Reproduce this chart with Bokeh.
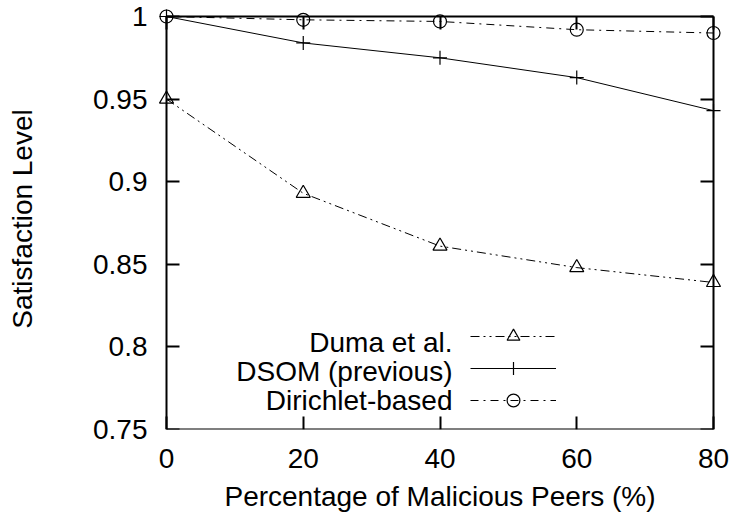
from bokeh.plotting import figure
from bokeh.models import LinearAxis, FixedTicker, Range1d, Legend, LegendItem, Label
from bokeh.embed import file_html
from bokeh.resources import INLINE

# ---------------- data ----------------
x_pct = [0, 20, 40, 60, 80]
duma = [0.950, 0.893, 0.861, 0.848, 0.839]
dsom = [1.000, 0.984, 0.975, 0.963, 0.943]
dirichlet = [1.000, 0.998, 0.997, 0.992, 0.990]
series_names = ["Duma et al.", "DSOM (previous)", "Dirichlet-based"]
x_ticks = [0, 20, 40, 60, 80]
y_ticks = [0.75, 0.8, 0.85, 0.9, 0.95, 1.0]
y_tick_labels = ["0.75", "0.8", "0.85", "0.9", "0.95", "1"]
x_label = "Percentage of Malicious Peers (%)"
y_label = "Satisfaction Level"

# ---------------- layout ----------------
FONT = "Liberation Sans"
FS = "28px"
W, H = 733, 521
BOX_L, BOX_R, BOX_T, BOX_B = 166, 713, 16, 429      # drawn frame box (canvas px)
FR_L, FR_R, FR_T, FR_B = 152, 727, 8, 429           # bokeh frame (a little larger, so edge markers are not cut)
XMIN, XMAX, YMIN, YMAX = 0, 80, 0.75, 1.0

sx = (BOX_R - BOX_L) / (XMAX - XMIN)
sy = (BOX_B - BOX_T) / (YMAX - YMIN)
x_range = Range1d(XMIN - (BOX_L - FR_L) / sx, XMAX + (FR_R - BOX_R) / sx)
y_range = Range1d(YMIN - (FR_B - BOX_B) / sy, YMAX + (BOX_T - FR_T) / sy)

p = figure(width=W, height=H, output_backend="svg", toolbar_location=None,
           x_range=x_range, y_range=y_range, x_axis_type=None, y_axis_type=None,
           min_border_left=FR_L, min_border_right=W - FR_R,
           min_border_top=FR_T, min_border_bottom=H - FR_B)
p.outline_line_color = None
p.background_fill_color = "white"
p.border_fill_color = "white"


def label_axis(ticks, standoff, title, title_standoff):
    ax = LinearAxis(ticker=FixedTicker(ticks=ticks))
    ax.axis_line_color = None
    ax.major_tick_line_color = None
    ax.minor_tick_line_color = None
    ax.major_tick_in = 0
    ax.major_tick_out = 0
    ax.major_label_text_font = FONT
    ax.major_label_text_font_size = FS
    ax.major_label_text_color = "black"
    ax.major_label_standoff = standoff
    ax.axis_label = title
    ax.axis_label_text_font = FONT
    ax.axis_label_text_font_size = FS
    ax.axis_label_text_font_style = "normal"
    ax.axis_label_text_color = "black"
    ax.axis_label_standoff = title_standoff
    return ax


def box_axis(ticks, loc, bounds):
    ax = LinearAxis(ticker=FixedTicker(ticks=ticks), fixed_location=loc, bounds=bounds)
    ax.axis_line_color = "black"
    ax.axis_line_width = 2
    ax.major_tick_line_color = "black"
    ax.major_tick_line_width = 2
    ax.major_tick_in = 13
    ax.major_tick_out = 0
    ax.minor_tick_line_color = None
    ax.major_label_text_font_size = "0px"
    ax.major_label_text_color = None
    ax.major_label_standoff = 0
    return ax


# label axes first (closest to the frame), box axes drawn at fixed locations
ylab = label_axis(y_ticks, 5, y_label, 52)
ylab.major_label_overrides = dict(zip(y_ticks, y_tick_labels))
p.add_layout(ylab, "left")
xlab = label_axis(x_ticks, 19, x_label, 10)
p.add_layout(xlab, "below")

p.add_layout(box_axis(y_ticks, XMIN, (YMIN, YMAX)), "left")
p.add_layout(box_axis(x_ticks, YMIN, (XMIN, XMAX)), "below")
p.add_layout(box_axis(y_ticks, XMAX, (YMIN, YMAX)), "right")
p.add_layout(box_axis(x_ticks, YMAX, (XMIN, XMAX)), "above")

# ---------------- series ----------------
r1l = p.line(x_pct, duma, line_color="black", line_width=1, line_dash="9 4 2 4 2 4")
r1m = p.scatter(x_pct, duma, marker="triangle", size=14, line_color="black",
                fill_color=None, line_width=1.2)
r2l = p.line(x_pct, dsom, line_color="black", line_width=1)
r2m = p.scatter(x_pct, dsom, marker="cross", size=14, line_color="black", line_width=1.2)
r3l = p.line(x_pct, dirichlet, line_color="black", line_width=1, line_dash="8 5 2 5")
r3m = p.scatter(x_pct, dirichlet, marker="circle", size=13, line_color="black",
                fill_color=None, line_width=1.2)

# ---------------- legend (samples via Legend, texts right-aligned via Labels) ----------------
LEG_SAMPLE_L = 470
LEG_ROWS_Y = [342, 371, 400]
LEG_TEXT_R = 452
GLYPH_H = 32
PITCH = LEG_ROWS_Y[1] - LEG_ROWS_Y[0]
legend_bottom = LEG_ROWS_Y[-1] + GLYPH_H / 2
legend = Legend(items=[LegendItem(label=" ", renderers=[r1l, r1m]),
                       LegendItem(label=" ", renderers=[r2l, r2m]),
                       LegendItem(label=" ", renderers=[r3l, r3m])],
                location=(LEG_SAMPLE_L - FR_L, FR_B - legend_bottom),
                glyph_width=86, glyph_height=GLYPH_H, spacing=PITCH - GLYPH_H,
                padding=0, margin=0, label_standoff=0, label_width=1, label_height=1,
                label_text_font_size="8px", border_line_color=None,
                background_fill_alpha=0)
p.add_layout(legend)

for name, ry in zip(series_names, LEG_ROWS_Y):
    p.add_layout(Label(x=LEG_TEXT_R - FR_L, y=FR_B - ry, x_units="screen", y_units="screen",
                       text=name, text_align="right", text_baseline="middle",
                       text_font=FONT, text_font_size=FS, text_color="black"))

open("out.html", "w").write(file_html(p, INLINE))
